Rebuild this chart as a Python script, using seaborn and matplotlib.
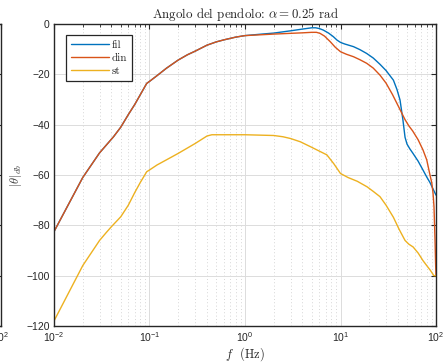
import numpy as np
import pandas as pd
import matplotlib
matplotlib.use("Agg")
import matplotlib.pyplot as plt
from matplotlib.font_manager import FontProperties
from matplotlib.ticker import LogLocator, NullFormatter
import seaborn as sns

# data
f_fil = [0.01, 0.02, 0.03, 0.042, 0.05, 0.06, 0.07, 0.0935, 0.1, 0.12, 0.15, 0.2, 0.25,
         0.3, 0.4, 0.5, 0.6, 0.8, 1.0, 1.5, 2.0, 3.0, 4.0, 5.0, 5.5, 6.0, 6.6, 7.5, 8.4,
         9.2, 10, 11, 13.7, 16, 18.8, 22, 25.9, 30, 35.8, 39, 42, 45, 47.4, 49.7, 53,
         57.4, 65, 73, 80, 86.5, 93, 100]
fil = [-82.5, -61, -51.2, -44.8, -41, -36, -32, -23.6, -22.8, -20.5, -17.6, -14.3, -12.2,
       -10.8, -8.4, -7.1, -6.3, -5.2, -4.6, -4.0, -3.6, -2.7, -2.0, -1.5, -1.5, -1.8, -2.4,
       -3.6, -5, -6.4, -7.3, -7.9, -9, -10.2, -11.7, -13.5, -16, -18.5, -22.3, -26, -30.2,
       -38, -45, -47.7, -49.5, -51.4, -54.5, -58, -60.8, -63, -65.5, -68]

f_din = [0.01, 0.02, 0.03, 0.042, 0.05, 0.06, 0.07, 0.0935, 0.1, 0.12, 0.15, 0.2, 0.25,
         0.3, 0.4, 0.5, 0.6, 0.8, 1.0, 2.0, 3.0, 4.0, 5.0, 5.6, 6.1, 6.8, 7.8, 8.8, 10,
         11.5, 13.7, 16, 18.8, 22, 25.9, 30, 35, 42, 47.4, 52, 57, 65, 73, 80, 86.5, 90.2,
         93, 95.3, 97.7, 99, 100]
din = [-82.5, -61, -51.2, -44.8, -41, -36, -32, -23.6, -22.8, -20.5, -17.6, -14.3, -12.2,
       -10.8, -8.4, -7.1, -6.3, -5.2, -4.6, -4.0, -3.7, -3.5, -3.3, -3.3, -3.7, -4.8, -7,
       -9.2, -11, -12, -13, -14.2, -15.6, -17.5, -20.3, -23.5, -28, -34, -38, -40.5, -42.5,
       -46, -50, -54, -60, -63, -67, -72.6, -86, -95, -100]

f_st = [0.01, 0.02, 0.03, 0.035, 0.04, 0.05, 0.06, 0.07, 0.08, 0.0935, 0.1, 0.12, 0.15,
        0.2, 0.3, 0.4, 0.45, 0.5, 1.0, 2.0, 2.5, 3.0, 3.8, 5.0, 6.0, 7.2, 8.5, 10, 12, 15,
        19, 22, 25.9, 30, 35.8, 41, 47.4, 52, 57.6, 65, 73, 80, 87, 95, 100]
st = [-118, -96, -86, -83, -80.5, -76.6, -72, -67, -63, -58.7, -58, -56, -54, -51.4, -47.5,
      -44.5, -44, -44, -44, -44.3, -44.8, -45.5, -46.8, -49, -50.5, -52, -55.5, -59.4, -61,
      -62.5, -64.7, -66.5, -68.6, -72, -76.8, -81.5, -86, -87.5, -88.6, -91, -94, -96,
      -97.8, -100, -100]

series_names = ["fil", "din", "st"]
colors = ["#0072BD", "#D95319", "#EDB120"]

df = pd.concat([
    pd.DataFrame({"f": f_fil, "mag": fil, "serie": "fil"}),
    pd.DataFrame({"f": f_din, "mag": din, "serie": "din"}),
    pd.DataFrame({"f": f_st, "mag": st, "serie": "st"}),
])

sns.set_theme(style="white")
plt.rcParams["font.family"] = ["Liberation Sans", "DejaVu Sans"]

fig = plt.figure(figsize=(4.47, 3.64), dpi=100)


def style_axes(ax):
    ax.set_xscale("log")
    ax.set_xlim(1e-2, 1e2)
    ax.set_ylim(-120, 0)
    ax.set_yticks(np.arange(-120, 1, 20))
    ax.xaxis.set_minor_locator(LogLocator(base=10, subs=np.arange(2, 10)))
    ax.xaxis.set_minor_formatter(NullFormatter())
    ax.tick_params(which="both", direction="in", top=True, right=True,
                   labelsize=7.5, colors="#262626", pad=3)
    ax.tick_params(which="major", length=3.5, width=0.8)
    ax.tick_params(which="minor", length=2, width=0.6)
    for s in ax.spines.values():
        s.set_color("#262626")
        s.set_linewidth(1.0)
    ax.grid(which="major", color="#dcdcdc", lw=0.7, ls="-")
    ax.grid(which="minor", color="#c8c8c8", lw=0.6, ls=(0, (1, 3)))
    ax.set_axisbelow(True)


# neighbouring panel, cut off at the left edge (only its last tick label shows)
ax0 = fig.add_axes([-0.85, 0.1044, 0.852, 0.8296])
style_axes(ax0)
ax0.set_xticks([1e2])
ax0.set_yticklabels([])

ax = fig.add_axes([0.1208, 0.1044, 0.8546, 0.8296])
style_axes(ax)

sns.lineplot(data=df, x="f", y="mag", hue="serie", hue_order=series_names,
             palette=colors, sort=False, estimator=None, lw=1.0, ax=ax)

ax.set_title(r"Angolo del pendolo: $\alpha = 0.25$ rad",
             fontproperties=FontProperties(family="cmr10", math_fontfamily="cm", size=9.3),
             pad=4)
ax.set_xlabel(r"$f$  (Hz)",
              fontproperties=FontProperties(family="cmr10", math_fontfamily="cm", size=9),
              labelpad=1)
ax.set_ylabel(r"$|\theta|_{db}$", fontproperties=FontProperties(math_fontfamily="cm", size=9),
              labelpad=2, color="#404040")

handles, labels = ax.get_legend_handles_labels()
leg = ax.legend(handles, labels,
                loc="upper left", bbox_to_anchor=(0.031, 0.964), borderaxespad=0,
                prop=FontProperties(family="cmr10", size=8),
                frameon=True, fancybox=False, edgecolor="#262626",
                handlelength=3.4, handletextpad=0.3, labelspacing=0.3,
                borderpad=0.45)
leg.get_frame().set_linewidth(0.9)
leg.get_frame().set_alpha(1)

fig.savefig("out.png", dpi=100)
